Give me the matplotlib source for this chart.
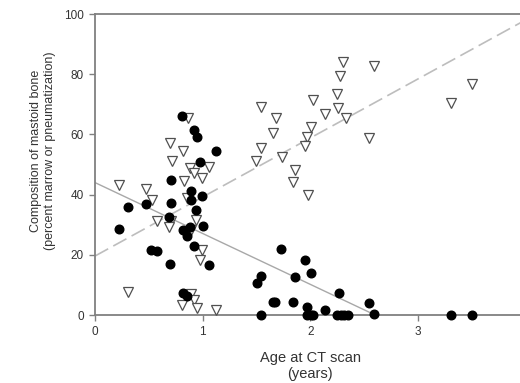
import numpy as np
import matplotlib.pyplot as plt

plt.rcParams['font.family'] = ['Liberation Sans', 'DejaVu Sans']

# marrow (filled circles): age in years, percent
marrow_age = [0.806, 0.917, 0.945, 1.125, 0.976, 0.706, 0.895, 0.990, 0.892, 0.304,
              0.478, 0.706, 0.939, 0.690, 0.225, 0.821, 0.883, 0.852, 1.000, 0.920,
              0.523, 0.579, 0.694, 1.057, 0.815, 0.854, 1.731, 1.546, 1.501, 1.952,
              2.003, 1.859, 2.263, 2.546, 1.652, 1.676, 1.839, 1.968, 2.135, 1.546,
              1.966, 2.003, 2.028, 2.246, 2.282, 2.317, 2.351, 2.595, 3.307, 3.502]
marrow_pct = [66.2, 61.5, 59.0, 54.6, 50.7, 44.7, 41.1, 39.5, 38.2, 35.8,
              36.9, 37.3, 34.9, 32.4, 28.5, 28.3, 29.2, 26.2, 29.6, 23.0,
              21.5, 21.4, 16.8, 16.6, 7.3, 6.2, 21.8, 12.9, 10.5, 18.3,
              13.9, 12.5, 7.2, 3.9, 4.3, 4.3, 4.2, 2.8, 1.8, 0.0,
              0.0, 0.0, 0.0, 0.0, 0.0, 0.0, 0.0, 0.2, 0.0, 0.0]

# pneumatization (open triangles)
pneum_age = [0.861, 0.697, 0.820, 0.711, 0.883, 0.920, 1.061, 0.997, 0.829, 0.226,
             0.474, 0.530, 0.852, 0.573, 0.706, 0.688, 0.939, 0.892, 0.992, 0.976,
             0.304, 0.892, 0.923, 0.811, 0.946, 1.125, 1.543, 1.680, 1.657, 1.543,
             1.735, 1.493, 2.308, 2.590, 2.279, 2.246, 2.023, 2.261, 2.135, 2.333,
             2.004, 1.967, 1.949, 1.856, 1.838, 1.977, 2.546, 3.309, 3.504]
pneum_pct = [65.3, 57.1, 54.6, 51.1, 48.9, 47.2, 49.3, 45.6, 44.6, 43.3,
             41.8, 38.3, 39.0, 31.4, 31.2, 29.1, 31.6, 28.1, 21.7, 18.2,
             7.8, 7.1, 5.0, 3.3, 2.4, 1.8, 69.2, 65.6, 60.4, 55.6,
             52.4, 51.2, 84.0, 82.7, 79.5, 73.4, 71.4, 68.9, 66.9, 65.3,
             62.3, 59.0, 56.2, 48.2, 44.1, 39.9, 58.8, 70.5, 76.9]

# regression lines (intercept, slope, x range)
marrow_fit = (44.0, -16.9, 0.0, 2.6)
pneum_fit = (19.6, 19.6, 0.0, 4.0)

x_ticks = [0, 1, 2, 3]
y_ticks = [0, 20, 40, 60, 80, 100]

fig = plt.figure(figsize=(5.2, 3.83), dpi=100)
ax = fig.add_axes([0.1827, 0.1775, 0.8277, 0.7859])   # right edge runs past the image, like the original

b, m, x0, x1 = marrow_fit
xs = np.array([x0, x1])
ax.plot(xs, b + m * xs, color='#a8a8a8', lw=1.0, zorder=2)
b, m, x0, x1 = pneum_fit
xs = np.array([x0, x1])
ax.plot(xs, b + m * xs, color='#bdbdbd', lw=1.2, dashes=(9, 3.5), zorder=2)

ax.plot(marrow_age, marrow_pct, 'o', color='black', ms=6.2, ls='none',
        clip_on=False, zorder=4)
ax.plot(pneum_age, pneum_pct, 'v', mfc='white', mec='#505050', mew=0.9, ms=6.5,
        ls='none', clip_on=False, zorder=3)

ax.set_xlim(0, 4)
ax.set_ylim(0, 100)
ax.set_xticks(x_ticks)
ax.set_yticks(y_ticks)

for s in ['left', 'bottom', 'top']:
    ax.spines[s].set_color('#808080')
    ax.spines[s].set_linewidth(1.3)
ax.spines['right'].set_visible(False)
ax.tick_params(direction='out', length=4, width=1, color='#808080',
               labelsize=8.5, labelcolor='#333333', pad=4)

ax.set_xlabel('Age at CT scan\n(years)', fontsize=10.5, color='#333333',
              linespacing=1.15)
ax.xaxis.set_label_coords(0.5, -0.12)
ax.set_ylabel('Composition of mastoid bone\n(percent marrow or pneumatization)',
              fontsize=9, color='#333333', linespacing=1.2)
ax.yaxis.set_label_coords(-0.09, 0.545)

fig.savefig('out.png', dpi=100)
